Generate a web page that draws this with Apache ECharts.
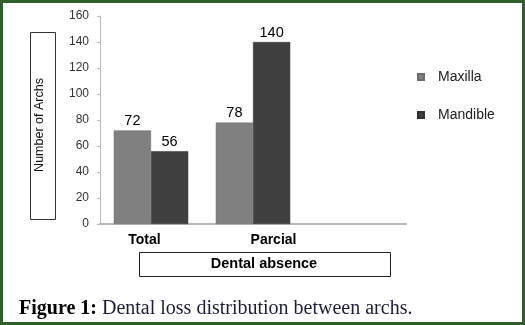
<!DOCTYPE html>
<html>
<head>
<meta charset="utf-8">
<script src="https://cdn.jsdelivr.net/npm/echarts@6/dist/echarts.min.js"></script>
<style>
html,body{margin:0;padding:0;background:#fff;}
#wrap{position:absolute;left:0;top:0;width:519px;height:319px;border:3px solid #2f5f2b;}
#chart{width:519px;height:319px;}
</style>
</head>
<body>
<div id="wrap"><div id="chart"></div></div>
<script>
var categories = ['Total', 'Parcial', ''];
var maxilla = [72, 78, null];
var mandible = [56, 140, null];
var yTicks = [0, 20, 40, 60, 80, 100, 120, 140, 160];
var yAxisTitle = 'Number of Archs';
var xAxisTitle = 'Dental absence';
var captionBold = 'Figure 1:';
var captionText = ' Dental loss distribution between archs.';

var chart = echarts.init(document.getElementById('chart'), null, {renderer: 'canvas'});
var off = -3; // offset for border
var F = 'Arial, Liberation Sans';
chart.setOption({
  animation: false,
  grid: {left: 100 + off, right: 119 + off, top: 16 + off, bottom: 101 + off, containLabel: false},
  legend: {
    orient: 'vertical', left: 412 + off, top: 65 + off, itemGap: 24,
    icon: 'rect', itemWidth: 6, itemHeight: 6,
    textStyle: {fontFamily: F, fontSize: 14, color: '#222', padding: [0, 0, 0, 9]},
    data: ['Maxilla', 'Mandible']
  },
  xAxis: {
    type: 'category', data: categories,
    axisLine: {lineStyle: {color: '#b8b8b8', width: 2}},
    axisTick: {show: false},
    axisLabel: {
      margin: 9, fontFamily: F, fontSize: 14, fontWeight: 'bold', color: '#000',
      formatter: function (v) {
        if (v === 'Total') return '{a|' + v + '}';
        if (v === 'Parcial') return '{b|' + v + '}';
        return v;
      },
      rich: {
        a: {fontFamily: F, fontSize: 14, fontWeight: 'bold', color: '#000', padding: [0, 13, 0, 0]},
        b: {fontFamily: F, fontSize: 14, fontWeight: 'bold', color: '#000', padding: [0, 0, 0, 41]}
      }
    }
  },
  yAxis: {
    type: 'value', min: yTicks[0], max: yTicks[yTicks.length - 1], interval: yTicks[1] - yTicks[0],
    axisLine: {show: true, lineStyle: {color: '#b8b8b8', width: 1}},
    axisTick: {show: true, length: 3, lineStyle: {color: '#b8b8b8'}},
    splitLine: {show: false},
    axisLabel: {margin: 11, fontFamily: F, fontSize: 12, color: '#333'}
  },
  series: [
    {
      name: 'Maxilla', type: 'bar', data: maxilla, barGap: '0%', barCategoryGap: '27%',
      itemStyle: {color: '#808080', borderColor: '#6e6e6e', borderWidth: 0.5},
      label: {show: true, position: 'top', distance: 2, fontFamily: F, fontSize: 14.5, color: '#000'}
    },
    {
      name: 'Mandible', type: 'bar', data: mandible, barGap: '0%', barCategoryGap: '27%',
      itemStyle: {color: '#404040', borderColor: '#303030', borderWidth: 0.5},
      label: {show: true, position: 'top', distance: 2, fontFamily: F, fontSize: 14.5, color: '#000'}
    }
  ],
  graphic: [
    {type: 'rect', shape: {x: 30.5 + off, y: 32.5 + off, width: 25, height: 187}, style: {fill: '#fff', stroke: '#333', lineWidth: 1}},
    {type: 'text', x: 40 + off, y: 125 + off, rotation: Math.PI / 2,
     style: {text: yAxisTitle, fontFamily: F, fontSize: 12.5, fill: '#111', align: 'center', verticalAlign: 'middle'}},
    {type: 'rect', shape: {x: 139.5 + off, y: 252.5 + off, width: 251, height: 24}, style: {fill: '#fff', stroke: '#222', lineWidth: 1}},
    {type: 'text', x: 264 + off, y: 264 + off,
     style: {text: xAxisTitle, fontFamily: F, fontSize: 14.5, fontWeight: 'bold', fill: '#000', align: 'center', verticalAlign: 'middle'}},
    {type: 'text', x: 19 + off, y: 309 + off,
     style: {text: '{b|' + captionBold + '}{n|' + captionText + '}', verticalAlign: 'middle', align: 'left',
       rich: {
         b: {fontFamily: 'Liberation Serif, DejaVu Serif, serif', fontSize: 20, fontWeight: 'bold', fill: '#000'},
         n: {fontFamily: 'Liberation Serif, DejaVu Serif, serif', fontSize: 20, fill: '#1d1d3a'}
       }}}
  ]
});
</script>
</body>
</html>
